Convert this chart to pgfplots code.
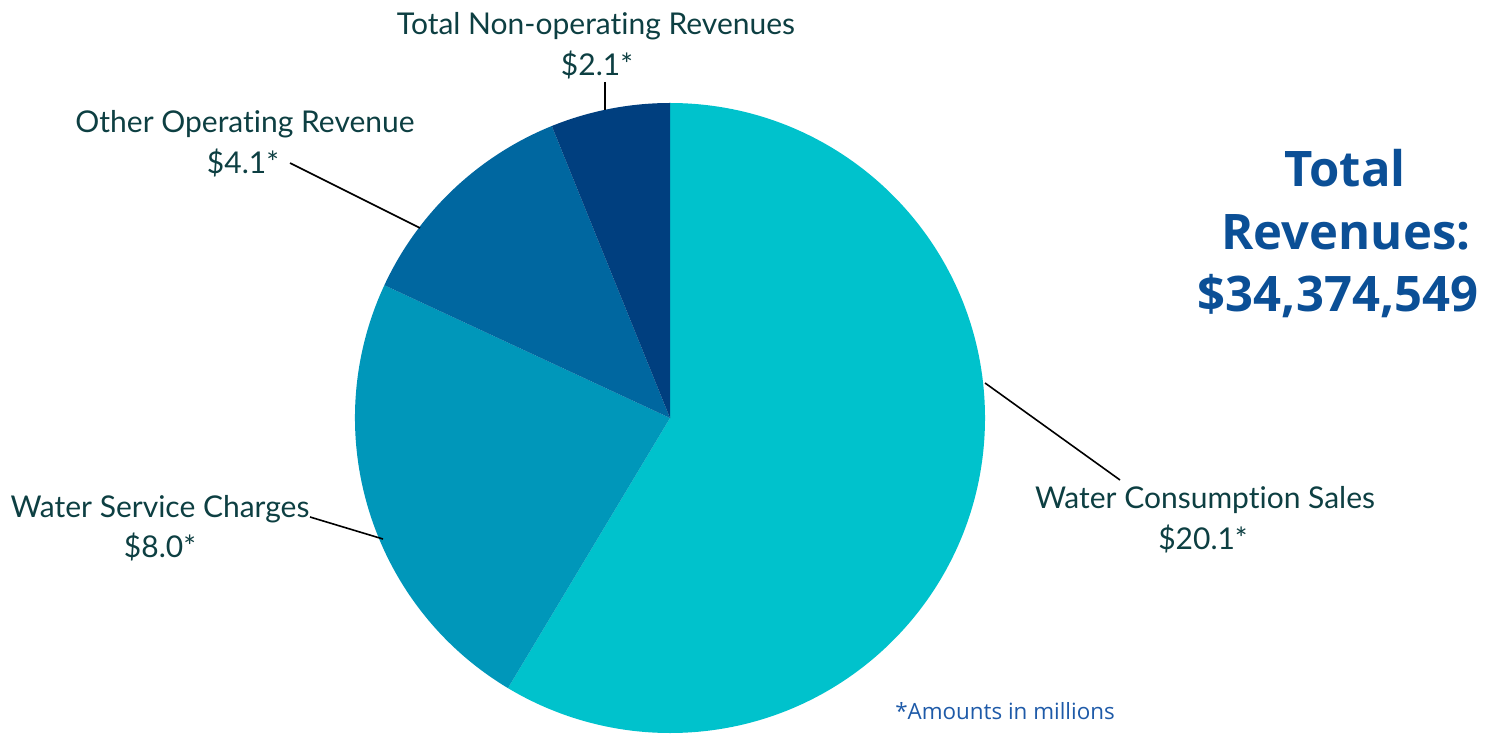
\documentclass[border=0pt]{standalone}
\usepackage{pgfplots}
\pgfplotsset{compat=1.18}
\usepackage{fontspec}
\setmainfont{Lato}[Ligatures=NoCommon]
\newfontfamily\titlefont{Open Sans}

\definecolor{cConsump}{HTML}{00C2CC}
\definecolor{cService}{HTML}{0097BA}
\definecolor{cOther}{HTML}{0067A0}
\definecolor{cNonop}{HTML}{003F7F}
\definecolor{labeltxt}{HTML}{0D3F42}
\definecolor{titletxt}{HTML}{0B4F96}
\definecolor{notetxt}{HTML}{1E5AA8}

% slice values (millions), clockwise from 12 o'clock
\pgfmathsetmacro{\vA}{20.1}
\pgfmathsetmacro{\vB}{8.0}
\pgfmathsetmacro{\vC}{4.1}
\pgfmathsetmacro{\vD}{2.1}
\pgfmathsetmacro{\tot}{\vA+\vB+\vC+\vD}
\pgfmathsetmacro{\aO}{90}
\pgfmathsetmacro{\aA}{\aO-360*\vA/\tot}
\pgfmathsetmacro{\aB}{\aA-360*\vB/\tot}
\pgfmathsetmacro{\aC}{\aB-360*\vC/\tot}
\pgfmathsetmacro{\aD}{\aC-360*\vD/\tot}

\begin{document}
\begin{tikzpicture}[
    lbl/.style={anchor=base, text=labeltxt, font=\fontsize{15}{18}\selectfont},
    ttl/.style={anchor=base, text=titletxt, font=\titlefont\bfseries\fontsize{24.5}{30}\selectfont}
]
\begin{axis}[
    x=0.5pt, y=0.5pt, scale only axis,
    xmin=0, xmax=1497, ymin=0, ymax=734,
    hide axis, clip=false
]
    \path[use as bounding box] (axis cs:0,0) rectangle (axis cs:1497,734);

    \def\R{157.5pt}
    \fill[cConsump] (axis cs:670,316) -- ++(\aO:\R) arc[start angle=\aO, end angle=\aA, radius=\R] -- cycle;
    \fill[cService] (axis cs:670,316) -- ++(\aA:\R) arc[start angle=\aA, end angle=\aB, radius=\R] -- cycle;
    \fill[cOther]   (axis cs:670,316) -- ++(\aB:\R) arc[start angle=\aB, end angle=\aC, radius=\R] -- cycle;
    \fill[cNonop]   (axis cs:670,316) -- ++(\aC:\R) arc[start angle=\aC, end angle=\aD, radius=\R] -- cycle;

    % leader lines
    \draw[black, line width=0.8pt] (axis cs:605,652) -- (axis cs:605,624);
    \draw[black, line width=0.8pt] (axis cs:290,571) -- (axis cs:420,506);
    \draw[black, line width=0.8pt] (axis cs:310,217) -- (axis cs:383,195);
    \draw[black, line width=0.8pt] (axis cs:985,351) -- (axis cs:1120,254);

    % labels
    \node[lbl] at (axis cs:596,699) {Total Non-operating Revenues};
    \node[lbl] at (axis cs:597,658) {\$2.1*};
    \node[lbl] at (axis cs:245,601) {Other Operating Revenue};
    \node[lbl] at (axis cs:243,560) {\$4.1*};
    \node[lbl] at (axis cs:160,217) {Water Service Charges};
    \node[lbl] at (axis cs:160,177) {\$8.0*};
    \node[lbl] at (axis cs:1205,226) {Water Consumption Sales};
    \node[lbl] at (axis cs:1203,185) {\$20.1*};

    % title block
    \node[ttl] at (axis cs:1345,547) {Total};
    \node[ttl] at (axis cs:1346,484) {Revenues:};
    \node[ttl] at (axis cs:1338,422) {\$34,374,549};

    \node[anchor=base, text=notetxt, font=\titlefont\fontsize{11.2}{13}\selectfont] at (axis cs:1005,15) {*Amounts in millions};
\end{axis}
\end{tikzpicture}
\end{document}
